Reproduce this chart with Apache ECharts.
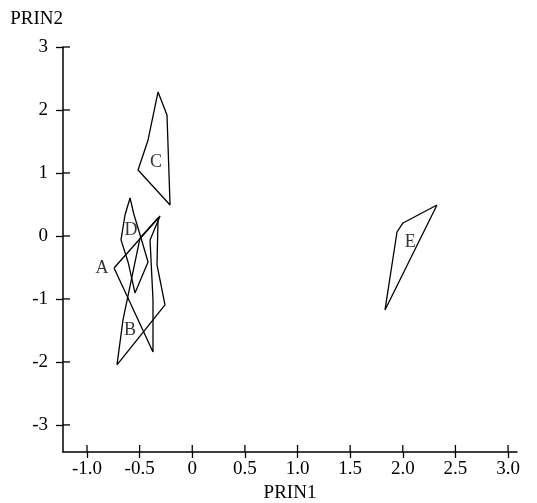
<!DOCTYPE html>
<html><head><meta charset="utf-8">
<script src="https://cdn.jsdelivr.net/npm/echarts@6/dist/echarts.min.js"></script>
<style>html,body{margin:0;padding:0;background:#fff}#c{width:537px;height:503px}</style>
</head><body><div id="c"></div>
<script>
// Tick values and labels
var xTicks = [-1.0, -0.5, 0, 0.5, 1.0, 1.5, 2.0, 2.5, 3.0];
var xTickLabels = ['-1.0', '-0.5', '0', '0.5', '1.0', '1.5', '2.0', '2.5', '3.0'];
var yTicks = [-3, -2, -1, 0, 1, 2, 3];
var yTickLabels = ['-3', '-2', '-1', '0', '1', '2', '3'];

// Cluster polygons (PRIN1, PRIN2) vertices
var polyA = [[-0.743, -0.508], [-0.306, 0.317], [-0.401, -0.063], [-0.373, -1.016], [-0.373, -1.841]];
var polyB = [[-0.715, -2.048], [-0.658, -1.333], [-0.496, -0.032], [-0.325, 0.286], [-0.335, -0.460], [-0.259, -1.095]];
var polyC = [[-0.325, 2.286], [-0.240, 1.921], [-0.211, 0.492], [-0.515, 1.048], [-0.420, 1.524]];
var polyD = [[-0.591, 0.603], [-0.553, 0.333], [-0.515, 0.127], [-0.420, -0.413], [-0.544, -0.905], [-0.610, -0.413], [-0.677, -0.063], [-0.639, 0.333]];
var polyE = [[2.325, 0.492], [2.002, 0.206], [1.945, 0.063], [1.831, -1.175]];

// Cluster labels and their positions
var clusterNames = ['A', 'B', 'C', 'D', 'E'];
var labelX = [-0.857, -0.591, -0.344, -0.582, 2.07];
var labelY = [-0.508, -1.49, 1.175, 0.095, -0.095];

var FONT = 'Liberation Serif';
var xMin = -1.228, xMax = 3.085, yMin = -3.43, yMax = 3.0;
function closed(p) { return p.concat([p[0]]); }
var polys = [polyA, polyB, polyC, polyD, polyE];

var series = polys.map(function (p) {
  return {
    type: 'line', data: closed(p), showSymbol: false, symbol: 'none',
    lineStyle: { color: '#000', width: 1.3 }, animation: false, silent: true
  };
});
series.push({
  type: 'scatter', symbolSize: 0, animation: false, silent: true,
  data: clusterNames.map(function (n, i) { return { name: n, value: [labelX[i], labelY[i]] }; }),
  label: { show: true, position: 'inside', formatter: '{b}', color: '#000', fontFamily: FONT, fontSize: 18 }
});
// inner halves of the crossing tick marks, placed through the axis scales
series.push({
  type: 'custom', silent: true, animation: false, clip: false,
  data: xTicks.map(function (v) { return [v, yMin]; }),
  renderItem: function (params, api) {
    var p = api.coord([api.value(0), yMin]);
    return { type: 'line', shape: { x1: p[0], y1: p[1], x2: p[0], y2: p[1] - 7 }, style: { stroke: '#000', lineWidth: 1.3 } };
  }
});
series.push({
  type: 'custom', silent: true, animation: false, clip: false,
  data: yTicks.map(function (v) { return [xMin, v]; }),
  renderItem: function (params, api) {
    var p = api.coord([xMin, api.value(1)]);
    return { type: 'line', shape: { x1: p[0], y1: p[1], x2: p[0] + 7, y2: p[1] }, style: { stroke: '#000', lineWidth: 1.3 } };
  }
});

function xFmt(v) { var i = xTicks.indexOf(v); return i >= 0 ? xTickLabels[i] : ''; }
function yFmt(v) { var i = yTicks.indexOf(v); return i >= 0 ? yTickLabels[i] : ''; }

var option = {
  backgroundColor: '#fff',
  animation: false,
  grid: { left: 63, right: 20, top: 47, bottom: 51, containLabel: false, outerBoundsMode: 'none' },
  xAxis: {
    type: 'value', min: xMin, max: xMax, position: 'bottom',
    name: 'PRIN1', nameLocation: 'middle', nameGap: 31,
    nameTextStyle: { fontFamily: FONT, fontSize: 19, color: '#000' },
    axisLine: { show: true, onZero: false, lineStyle: { color: '#000', width: 1.5 } },
    axisTick: { show: true, inside: false, length: 6, customValues: xTicks, lineStyle: { color: '#000', width: 1.3 } },
    axisLabel: { show: true, customValues: xTicks, formatter: xFmt, margin: 8, fontFamily: FONT, fontSize: 19, color: '#000' },
    splitLine: { show: false }
  },
  yAxis: {
    type: 'value', min: yMin, max: yMax, position: 'left',
    name: 'PRIN2', nameLocation: 'end', nameGap: 18,
    nameTextStyle: { fontFamily: FONT, fontSize: 19, color: '#000', align: 'right' },
    axisLine: { show: true, onZero: false, lineStyle: { color: '#000', width: 1.5 } },
    axisTick: { show: true, inside: false, length: 7, customValues: yTicks, lineStyle: { color: '#000', width: 1.3 } },
    axisLabel: { show: true, customValues: yTicks, formatter: yFmt, margin: 15, fontFamily: FONT, fontSize: 19, color: '#000' },
    splitLine: { show: false }
  },
  series: series
};
var chart = echarts.init(document.getElementById('c'), null, { renderer: 'canvas' });
chart.setOption(option);
</script></body></html>
